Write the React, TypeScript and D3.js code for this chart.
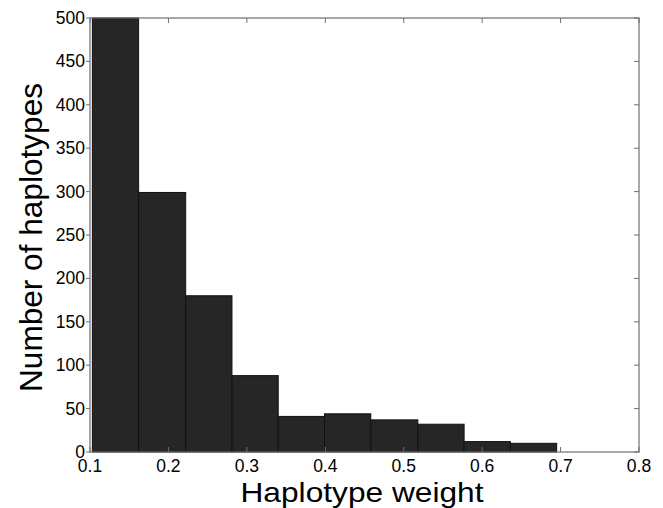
import React from 'react'
import { scaleLinear } from 'd3'

// histogram of haplotype weights
const binEdges = [0.103, 0.162, 0.222, 0.281, 0.340, 0.399, 0.458, 0.518, 0.577, 0.636, 0.695]
const counts = [500, 299, 180, 88, 41, 44, 37, 32, 12, 10]
const xTicks = [0.1, 0.2, 0.3, 0.4, 0.5, 0.6, 0.7, 0.8]
const yTicks = [0, 50, 100, 150, 200, 250, 300, 350, 400, 450, 500]

const App = () => {
  const width = 663
  const height = 508
  const plot = { left: 90, right: 639, top: 18, bottom: 452 }

  const xScale = scaleLinear().domain([0.1, 0.8]).range([plot.left, plot.right])
  const yScale = scaleLinear().domain([0, 500]).range([plot.bottom, plot.top]).clamp(true)

  const axisColor = '#6e6e6e'
  const font = "'Liberation Sans', Arial, sans-serif"

  return (
    <svg width={width} height={height} style={{ position: 'absolute', left: 0, top: 0, background: '#fff' }}>
      {counts.map((c, i) => (
        <rect
          key={i}
          x={xScale(binEdges[i])}
          y={yScale(c)}
          width={xScale(binEdges[i + 1]) - xScale(binEdges[i])}
          height={plot.bottom - yScale(c)}
          fill='#262626'
          stroke='#111'
          strokeWidth={1}
        />
      ))}

      {/* box */}
      <rect x={plot.left} y={plot.top} width={plot.right - plot.left} height={plot.bottom - plot.top}
        fill='none' stroke={axisColor} strokeWidth={1.2} />

      {xTicks.map(t => (
        <g key={t} transform={`translate(${xScale(t)},0)`}>
          <line y1={plot.bottom} y2={plot.bottom - 5} stroke={axisColor} />
          <line y1={plot.top} y2={plot.top + 5} stroke={axisColor} />
          <text y={472} textAnchor='middle' fontSize={17.5} fontFamily={font} fill='#000'>{t}</text>
        </g>
      ))}

      {yTicks.map(t => (
        <g key={t} transform={`translate(0,${yScale(t)})`}>
          <line x1={plot.left - 4} x2={plot.left} stroke={axisColor} />
          <line x1={plot.right} x2={plot.right - 5} stroke={axisColor} />
          <text x={85} y={6} textAnchor='end' fontSize={17.5} fontFamily={font} fill='#000'>{t}</text>
        </g>
      ))}

      <text x={362} y={502} textAnchor='middle' fontSize={28} fontFamily={font} fill='#000'
        textLength={243} lengthAdjust='spacingAndGlyphs'>Haplotype weight</text>
      <text transform='translate(42,237.5) rotate(-90)' textAnchor='middle' fontSize={31.5} fontFamily={font} fill='#000'
        textLength={309} lengthAdjust='spacingAndGlyphs'>Number of haplotypes</text>
    </svg>
  )
}

export default App
